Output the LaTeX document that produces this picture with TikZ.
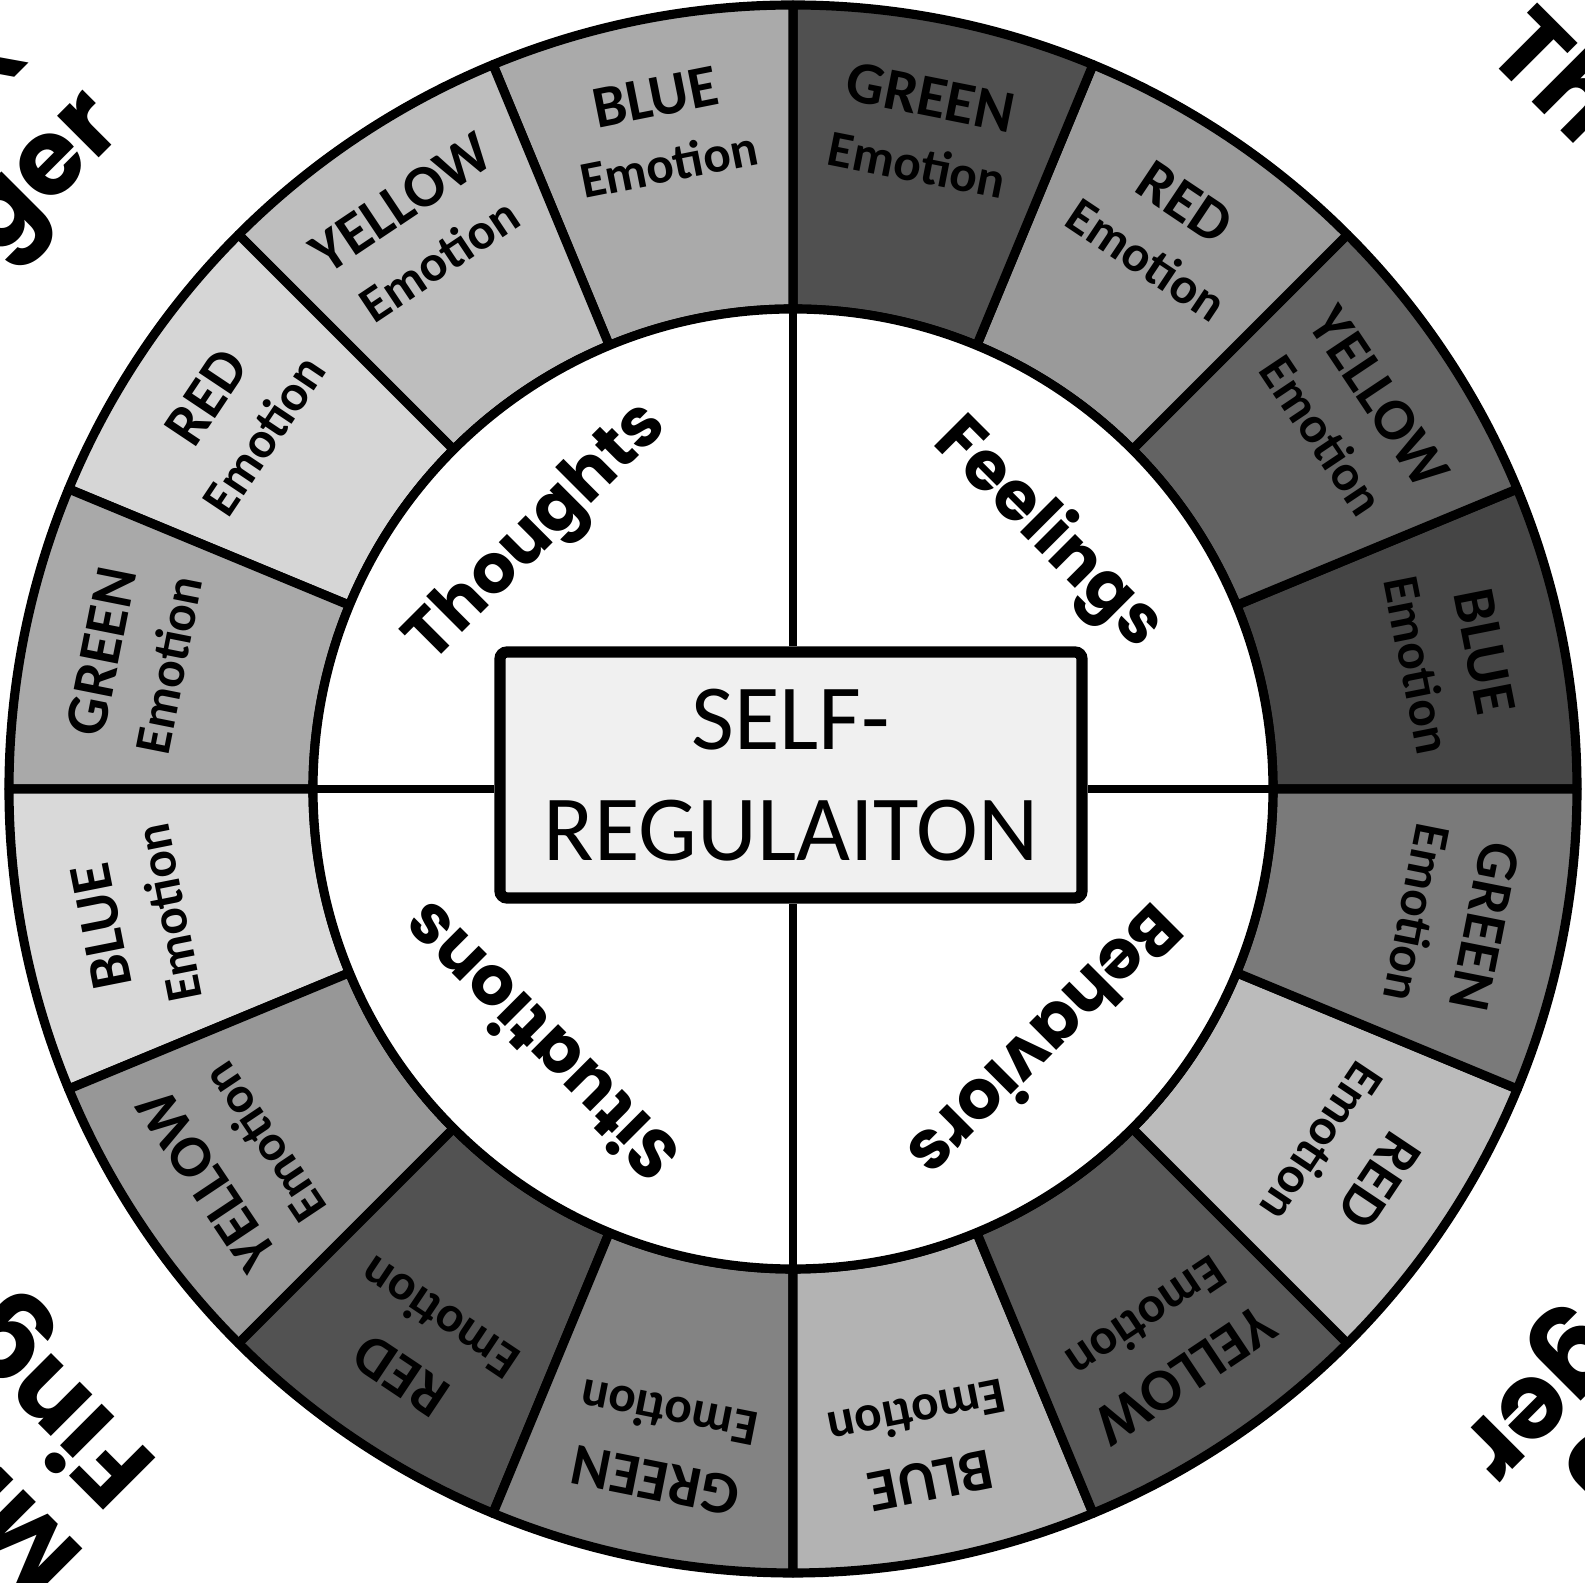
\documentclass[tikz,border=0pt]{standalone}
\usepackage{fontspec}
\setmainfont{Carlito}
\newfontfamily\handfont{Poppins}

\definecolor{shade0}{HTML}{454545}
\definecolor{shade1}{HTML}{636363}
\definecolor{shade2}{HTML}{9A9A9A}
\definecolor{shade3}{HTML}{505050}
\definecolor{shade4}{HTML}{AAAAAA}
\definecolor{shade5}{HTML}{BEBEBE}
\definecolor{shade6}{HTML}{D6D6D6}
\definecolor{shade7}{HTML}{A9A9A9}
\definecolor{shade8}{HTML}{D9D9D9}
\definecolor{shade9}{HTML}{979797}
\definecolor{shade10}{HTML}{525252}
\definecolor{shade11}{HTML}{838383}
\definecolor{shade12}{HTML}{B3B3B3}
\definecolor{shade13}{HTML}{575757}
\definecolor{shade14}{HTML}{BBBBBB}
\definecolor{shade15}{HTML}{7A7A7A}
\definecolor{boxgray}{HTML}{F0F0F0}

\newcommand{\emolabel}[1]{{\fontsize{17}{19}\selectfont #1}\\Emotion}

\begin{document}
\begin{tikzpicture}
            \tikzstyle{seg}=[draw=black,line width=2.6pt,line join=round]
            \tikzstyle{emo}=[align=center,inner sep=0pt,font=\bfseries\fontsize{14.6}{19}\selectfont]
            \tikzstyle{part}=[inner sep=0pt,font=\handfont\bfseries\fontsize{19.5}{23}\selectfont]
            \tikzstyle{finger}=[align=center,inner sep=0pt,font=\handfont\bfseries\fontsize{30}{33}\selectfont]
            \tikzstyle{cross}=[draw=black,line width=2.4pt]
            \tikzstyle{core}=[draw=black,line width=3.2pt,fill=boxgray,rounded corners=2pt,align=center,inner sep=0pt,
                              minimum width=5.82cm,minimum height=2.46cm,font=\fontsize{26.5}{31.6}\selectfont]

            \def\ri{4.8}
            \def\ro{7.84}
            \def\rl{6.72}

            \clip (-7.93,-7.94) rectangle (7.92,7.89);
            \fill[white] (-7.93,-7.94) rectangle (7.92,7.89);

            % outer ring
            \path[seg,fill=shade0]  (0:\ri)     arc (0:22.5:\ri)      -- (22.5:\ro)  arc (22.5:0:\ro)      -- cycle;
            \path[seg,fill=shade1]  (22.5:\ri)  arc (22.5:45:\ri)     -- (45:\ro)    arc (45:22.5:\ro)     -- cycle;
            \path[seg,fill=shade2]  (45:\ri)    arc (45:67.5:\ri)     -- (67.5:\ro)  arc (67.5:45:\ro)     -- cycle;
            \path[seg,fill=shade3]  (67.5:\ri)  arc (67.5:90:\ri)     -- (90:\ro)    arc (90:67.5:\ro)     -- cycle;
            \path[seg,fill=shade4]  (90:\ri)    arc (90:112.5:\ri)    -- (112.5:\ro) arc (112.5:90:\ro)    -- cycle;
            \path[seg,fill=shade5]  (112.5:\ri) arc (112.5:135:\ri)   -- (135:\ro)   arc (135:112.5:\ro)   -- cycle;
            \path[seg,fill=shade6]  (135:\ri)   arc (135:157.5:\ri)   -- (157.5:\ro) arc (157.5:135:\ro)   -- cycle;
            \path[seg,fill=shade7]  (157.5:\ri) arc (157.5:180:\ri)   -- (180:\ro)   arc (180:157.5:\ro)   -- cycle;
            \path[seg,fill=shade8]  (180:\ri)   arc (180:202.5:\ri)   -- (202.5:\ro) arc (202.5:180:\ro)   -- cycle;
            \path[seg,fill=shade9]  (202.5:\ri) arc (202.5:225:\ri)   -- (225:\ro)   arc (225:202.5:\ro)   -- cycle;
            \path[seg,fill=shade10] (225:\ri)   arc (225:247.5:\ri)   -- (247.5:\ro) arc (247.5:225:\ro)   -- cycle;
            \path[seg,fill=shade11] (247.5:\ri) arc (247.5:270:\ri)   -- (270:\ro)   arc (270:247.5:\ro)   -- cycle;
            \path[seg,fill=shade12] (270:\ri)   arc (270:292.5:\ri)   -- (292.5:\ro) arc (292.5:270:\ro)   -- cycle;
            \path[seg,fill=shade13] (292.5:\ri) arc (292.5:315:\ri)   -- (315:\ro)   arc (315:292.5:\ro)   -- cycle;
            \path[seg,fill=shade14] (315:\ri)   arc (315:337.5:\ri)   -- (337.5:\ro) arc (337.5:315:\ro)   -- cycle;
            \path[seg,fill=shade15] (337.5:\ri) arc (337.5:360:\ri)   -- (360:\ro)   arc (360:337.5:\ro)   -- cycle;

            \node[emo,rotate=-78.75] (e0)  at (11.25:\rl)  {\emolabel{BLUE}};
            \node[emo,rotate=-56.25] (e1)  at (33.75:\rl)  {\emolabel{YELLOW}};
            \node[emo,rotate=-33.75] (e2)  at (56.25:\rl)  {\emolabel{RED}};
            \node[emo,rotate=-11.25] (e3)  at (78.75:\rl)  {\emolabel{GREEN}};
            \node[emo,rotate=11.25]  (e4)  at (101.25:\rl) {\emolabel{BLUE}};
            \node[emo,rotate=33.75]  (e5)  at (123.75:\rl) {\emolabel{YELLOW}};
            \node[emo,rotate=56.25]  (e6)  at (146.25:\rl) {\emolabel{RED}};
            \node[emo,rotate=78.75]  (e7)  at (168.75:\rl) {\emolabel{GREEN}};
            \node[emo,rotate=101.25] (e8)  at (191.25:\rl) {\emolabel{BLUE}};
            \node[emo,rotate=123.75] (e9)  at (213.75:\rl) {\emolabel{YELLOW}};
            \node[emo,rotate=146.25] (e10) at (236.25:\rl) {\emolabel{RED}};
            \node[emo,rotate=168.75] (e11) at (258.75:\rl) {\emolabel{GREEN}};
            \node[emo,rotate=191.25] (e12) at (281.25:\rl) {\emolabel{BLUE}};
            \node[emo,rotate=213.75] (e13) at (303.75:\rl) {\emolabel{YELLOW}};
            \node[emo,rotate=236.25] (e14) at (326.25:\rl) {\emolabel{RED}};
            \node[emo,rotate=258.75] (e15) at (348.75:\rl) {\emolabel{GREEN}};

            % inner disk
            \path[seg,fill=white] (0,0) circle (\ri);

            \node[core] (core) at (-0.02,0.14) {SELF-\\REGULAITON};

            \coordinate (n) at (90:\ri);
            \coordinate (s) at (270:\ri);
            \coordinate (w) at (180:\ri);
            \coordinate (e) at (0:\ri);

            \path[cross] (n) -- (n |- core.north);
            \path[cross] (s) -- (s |- core.south);
            \path[cross] (w) -- (w -| core.west);
            \path[cross] (e) -- (e -| core.east);

            \node[part,rotate=45]   (thoughts)   at (135:3.6)  {Thoughts};
            \node[part,rotate=-45]  (feelings)   at (45:3.6)   {Feelings};
            \node[part,rotate=-135] (behaviors)  at (-45:3.6)  {Behaviors};
            \node[part,rotate=135]  (situations) at (-135:3.6) {Situations};

            % corners
            \node[finger,rotate=45]   (index)  at (-8.46,5.96)  {Index\\Finger};
            \node[finger,rotate=-45]  (thumb)  at (8.55,6.26)   {Thumb};
            \node[finger,rotate=135]  (middle) at (-8.14,-6.13) {Middle\\Finger};
            \node[finger,rotate=-135] (ring)   at (8.45,-5.93)  {Ring\\Finger};
        \end{tikzpicture}
\end{document}
